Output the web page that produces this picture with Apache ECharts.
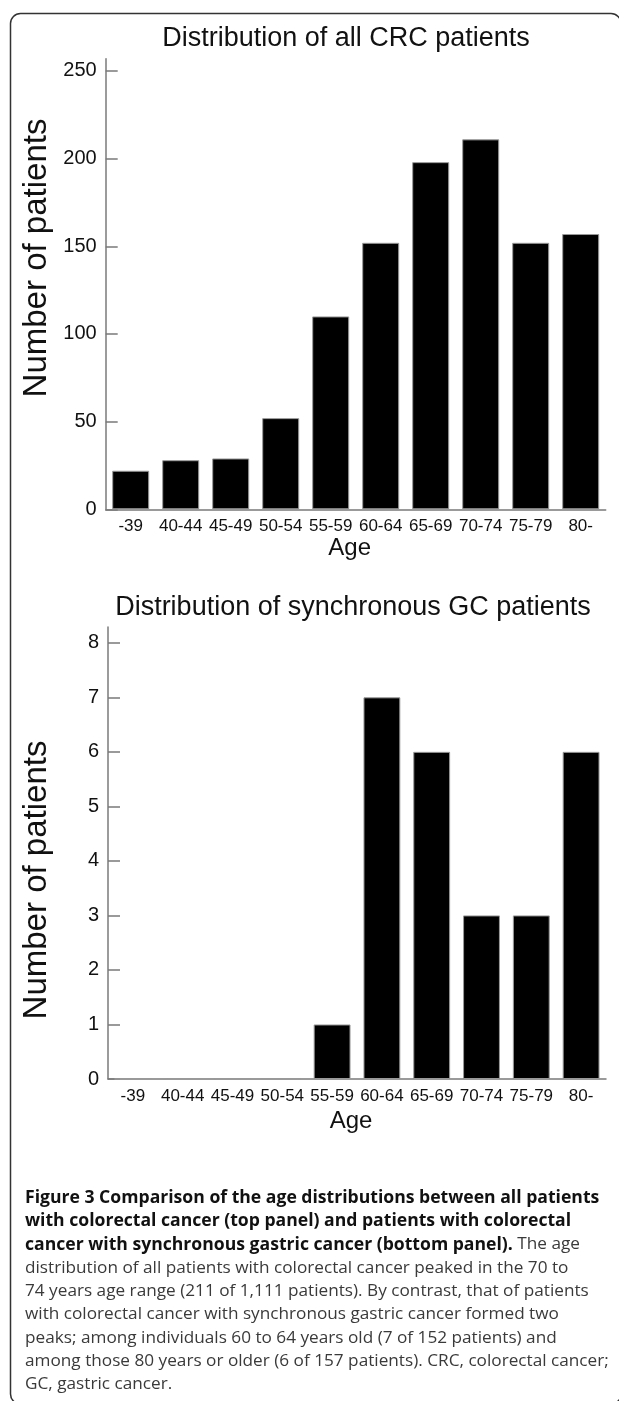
<!DOCTYPE html>
<html>
<head>
<meta charset="utf-8">
<script src="https://cdn.jsdelivr.net/npm/echarts@6/dist/echarts.min.js"></script>
<style>
html,body{margin:0;padding:0;background:#fff;}
#chart{width:619px;height:1401px;}
</style>
</head>
<body>
<div id="chart"></div>
<script>
const categories = ['-39','40-44','45-49','50-54','55-59','60-64','65-69','70-74','75-79','80-'];
const allCRC = [22, 28, 29, 52, 110, 152, 198, 211, 152, 157];
const syncGC = [0, 0, 0, 0, 1, 7, 6, 3, 3, 6];
const crcTicks = [0, 50, 100, 150, 200, 250];
const gcTicks = [0, 1, 2, 3, 4, 5, 6, 7, 8];
const titleTop = 'Distribution of all CRC patients';
const titleBottom = 'Distribution of synchronous GC patients';
const yName = 'Number of patients';
const xName = 'Age';
const captionLines = [
  [{b:'Figure 3 Comparison of the age distributions between all patients'}],
  [{b:'with colorectal cancer (top panel) and patients with colorectal'}],
  [{b:'cancer with synchronous gastric cancer (bottom panel).'},{n:' The age'}],
  [{n:'distribution of all patients with colorectal cancer peaked in the 70 to'}],
  [{n:'74 years age range (211 of 1,111 patients). By contrast, that of patients'}],
  [{n:'with colorectal cancer with synchronous gastric cancer formed two'}],
  [{n:'peaks; among individuals 60 to 64 years old (7 of 152 patients) and'}],
  [{n:'among those 80 years or older (6 of 157 patients). CRC, colorectal cancer;'}],
  [{n:'GC, gastric cancer.'}]
];

const FONT = 'Arial, "Liberation Sans", Helvetica, sans-serif';
const axisColor = '#7a7a7a';

function xAxisCfg(gi, gap) {
  return {
    type: 'category', gridIndex: gi, data: categories,
    boundaryGap: true,
    axisLine: {lineStyle: {color: axisColor, width: 1.5}},
    axisTick: {inside: true, length: 11, lineStyle: {color: axisColor, width: 1.5}},
    axisLabel: {fontFamily: FONT, fontSize: 17, color: '#111', margin: 9, interval: 0},
    name: xName, nameLocation: 'middle', nameGap: gap,
    nameTextStyle: {fontFamily: FONT, fontSize: 24, color: '#111', padding: [0, 12, 0, 0]}
  };
}
function yAxisCfg(gi, max, interval, ticks) {
  return {
    type: 'value', gridIndex: gi, min: 0, max: max, interval: interval,
    axisLine: {show: true, lineStyle: {color: axisColor, width: 1.5}},
    axisTick: {show: true, inside: true, length: 12, customValues: ticks, lineStyle: {color: axisColor, width: 1.5}},
    axisLabel: {fontFamily: FONT, fontSize: 20, color: '#111', margin: 9, customValues: ticks},
    splitLine: {show: false}
  };
}

const graphics = [];
graphics.push({
  type: 'rect', z: 100,
  shape: {x: 10.5, y: 13.5, width: 610.5, height: 1390.5, r: 10},
  style: {fill: 'none', stroke: '#333', lineWidth: 1.5}
});
graphics.push({type:'text', x: 346, y: 39, style: {text: titleTop, font: '27px ' + FONT, fill: '#111', textAlign: 'center', textVerticalAlign: 'middle'}});
graphics.push({type:'text', x: 353, y: 607.5, style: {text: titleBottom, font: '27px ' + FONT, fill: '#111', textAlign: 'center', textVerticalAlign: 'middle'}});
// y-axis names (rotated)
[[258], [880]].forEach(([cy]) => {
  graphics.push({type:'text', x: 37, y: cy, rotation: Math.PI / 2,
    style: {text: yName, font: '33px ' + FONT, fill: '#111', textAlign: 'center', textVerticalAlign: 'middle'}});
});

const capFont = '"Open Sans", "Noto Sans", sans-serif';
captionLines.forEach((parts, i) => {
  let txt = parts.map(p => p.b !== undefined ? '{b|' + p.b + '}' : '{n|' + p.n + '}').join('');
  graphics.push({
    type: 'text', x: 25, y: 1198 + i * 23.3,
    style: {
      text: txt, textAlign: 'left', textVerticalAlign: 'middle',
      rich: {
        b: {fontFamily: capFont, fontSize: 17.6, fontWeight: 'bold', fill: '#111'},
        n: {fontFamily: capFont, fontSize: 17.2, fill: '#3a3a3a'}
      }
    }
  });
});

const chart = echarts.init(document.getElementById('chart'), null, {renderer: 'canvas'});
chart.setOption({
  animation: false,
  backgroundColor: '#fff',
  grid: [
    {left: 105.7, top: 58.7, width: 500, height: 450.6},
    {left: 108, top: 627, width: 498, height: 452}
  ],
  xAxis: [xAxisCfg(0, 27), xAxisCfg(1, 30)],
  yAxis: [yAxisCfg(0, 257, 50, crcTicks), yAxisCfg(1, 8.29, 1, gcTicks)],
  series: [
    {type: 'bar', xAxisIndex: 0, yAxisIndex: 0, data: allCRC, barCategoryGap: '26%',
     itemStyle: {color: '#000', borderColor: '#999', borderWidth: 1}},
    {type: 'bar', xAxisIndex: 1, yAxisIndex: 1, data: syncGC, barCategoryGap: '26%',
     itemStyle: {color: '#000', borderColor: '#999', borderWidth: 1}}
  ],
  graphic: graphics
});
</script>
</body>
</html>
